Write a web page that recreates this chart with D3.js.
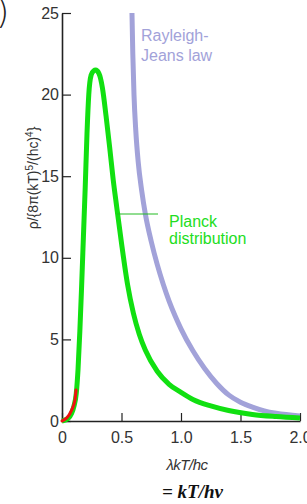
<!DOCTYPE html>
<html>
<head>
<meta charset="utf-8">
<script src="https://cdn.jsdelivr.net/npm/d3@7"></script>
<style>
    body { margin: 0; background: #fff; }
    svg { display: block; font-family: "Liberation Sans", Arial, sans-serif; }
</style>
</head>
<body>
<div id="chart"></div>
<script>
// values
const xTicks = [0, 0.5, 1.0, 1.5, 2.0];
const xTickLabels = ['0', '0.5', '1.0', '1.5', '2.0'];
const yTicks = [0, 5, 10, 15, 20, 25];

// Planck distribution (green)
const planckX = [0, 0.05, 0.08, 0.10, 0.12, 0.135, 0.15, 0.165, 0.18, 0.195, 0.21, 0.225, 0.245, 0.265,
    0.283, 0.31, 0.34, 0.37, 0.40, 0.43, 0.46, 0.50, 0.55, 0.60, 0.65, 0.70, 0.80, 0.90, 1.00,
    1.10, 1.25, 1.40, 1.60, 1.80, 2.00];
const planckY = [0, 0.15, 0.45, 0.9, 1.7, 3.2, 5.5, 8.3, 11.3, 14.3, 17.6, 20.0, 21.2, 21.45,
    21.5, 21.3, 20.4, 18.7, 16.8, 14.8, 13.1, 10.9, 8.4, 6.6, 5.3, 4.35, 3.05, 2.25, 1.75,
    1.32, 0.92, 0.64, 0.40, 0.27, 0.18];

// Rayleigh-Jeans law (lavender)
const rjX = [0.588, 0.595, 0.605, 0.62, 0.64, 0.67, 0.70, 0.75, 0.80, 0.85, 0.90, 0.95, 1.00,
    1.10, 1.20, 1.30, 1.40, 1.50, 1.60, 1.70, 1.80, 2.00];
const rjY = [25, 22.5, 20.0, 17.8, 15.9, 14.1, 12.7, 11.0, 9.6, 8.4, 7.35, 6.45, 5.65,
    4.3, 3.2, 2.3, 1.6, 1.15, 0.85, 0.62, 0.47, 0.31];

// short red segment near the origin
const wienX = [0, 0.039, 0.081, 0.109, 0.118];
const wienY = [0, 0.18, 0.67, 1.29, 1.9];

const W = 307, H = 504;
let margin = {top: 13, left: 62},
    width = 238,
    height = 408;

let svg = d3.select('#chart').append('svg')
    .attr('width', W)
    .attr('height', H);

// stray bracket in the top left corner of the original
svg.append('text')
    .attr('x', -4)
    .attr('y', 24)
    .style('font-size', '34px')
    .style('font-family', 'DejaVu Sans, sans-serif')
    .style('font-weight', '200')
    .attr('fill', '#222')
    .text(')');

let g = svg.append('g')
    .attr('transform', 'translate(' + margin.left + ',' + margin.top + ')');

let x = d3.scaleLinear().domain([0, 2]).range([0, width]);
let y = d3.scaleLinear().domain([0, 25]).range([height, 0]);

// y axis, ticks pointing inward
let yAxis = g.append('g')
    .call(d3.axisLeft(y).tickValues(yTicks).tickSizeInner(-9).tickSizeOuter(0).tickPadding(3));
yAxis.selectAll('text')
    .style('font-size', '16px')
    .style('font-family', '"Liberation Sans", Arial, sans-serif')
    .attr('fill', '#333');

// x axis
let xAxis = g.append('g')
    .attr('transform', 'translate(0,' + height + ')')
    .call(d3.axisBottom(x).tickValues(xTicks).tickFormat((d, i) => xTickLabels[i])
        .tickSizeInner(-8).tickSizeOuter(0).tickPadding(11));
xAxis.selectAll('text')
    .style('font-size', '16px')
    .style('font-family', '"Liberation Sans", Arial, sans-serif')
    .attr('fill', '#333');

[yAxis, xAxis].forEach(a => {
    a.select('.domain').attr('stroke', '#222').attr('stroke-width', 1.6);
    a.selectAll('.tick line').attr('stroke', '#222').attr('stroke-width', 1.2);
});

const line = d3.line()
    .x(d => x(d[0]))
    .y(d => y(d[1]))
    .curve(d3.curveMonotoneX);

function pairs(xs, ys) {
    return xs.map((v, i) => [v, ys[i]]);
}

g.append('path')
    .datum(pairs(rjX, rjY))
    .attr('d', line)
    .attr('fill', 'none')
    .attr('stroke', '#a2a2d9')
    .attr('stroke-width', 5);

g.append('path')
    .datum(pairs(planckX, planckY))
    .attr('d', line)
    .attr('fill', 'none')
    .attr('stroke', '#11e011')
    .attr('stroke-width', 5)
    .attr('stroke-linejoin', 'round');

g.append('path')
    .datum(pairs(wienX, wienY))
    .attr('d', line)
    .attr('fill', 'none')
    .attr('stroke', '#ee1111')
    .attr('stroke-width', 3)
    .attr('stroke-linecap', 'round');

// labels on the curves
let rjLabel = svg.append('text')
    .attr('fill', '#a2a2d9')
    .style('font-size', '16px');
rjLabel.append('tspan').attr('x', 141).attr('y', 41).text('Rayleigh-');
rjLabel.append('tspan').attr('x', 141).attr('y', 61).text('Jeans law');

svg.append('line')
    .attr('x1', 117).attr('x2', 158)
    .attr('y1', 214).attr('y2', 214)
    .attr('stroke', '#22bb22')
    .attr('stroke-width', 1);

let planckLabel = svg.append('text')
    .attr('fill', '#22dd22')
    .style('font-size', '16px');
planckLabel.append('tspan').attr('x', 169).attr('y', 227).text('Planck');
planckLabel.append('tspan').attr('x', 169).attr('y', 244).text('distribution');

// axis titles
svg.append('text')
    .attr('x', 187)
    .attr('y', 470)
    .attr('text-anchor', 'middle')
    .attr('fill', '#333')
    .style('font-size', '15px')
    .style('font-style', 'italic')
    .style('letter-spacing', '-0.5px')
    .text('λkT/hc');

svg.append('text')
    .attr('x', 162)
    .attr('y', 498)
    .attr('fill', '#111')
    .style('font-family', '"Liberation Serif", "Times New Roman", serif')
    .style('font-size', '19px')
    .style('font-weight', 'bold')
    .style('font-style', 'italic')
    .text('= kT/hν');

let yTitle = svg.append('text')
    .attr('transform', 'translate(38,178) rotate(-90)')
    .attr('text-anchor', 'middle')
    .attr('fill', '#333')
    .style('font-size', '14px');
yTitle.append('tspan').text('ρ/{8π(kT)');
yTitle.append('tspan').attr('dy', -5).style('font-size', '10px').text('5');
yTitle.append('tspan').attr('dy', 5).text('/(hc)');
yTitle.append('tspan').attr('dy', -5).style('font-size', '10px').text('4');
yTitle.append('tspan').attr('dy', 5).text('}');
</script>
</body>
</html>
